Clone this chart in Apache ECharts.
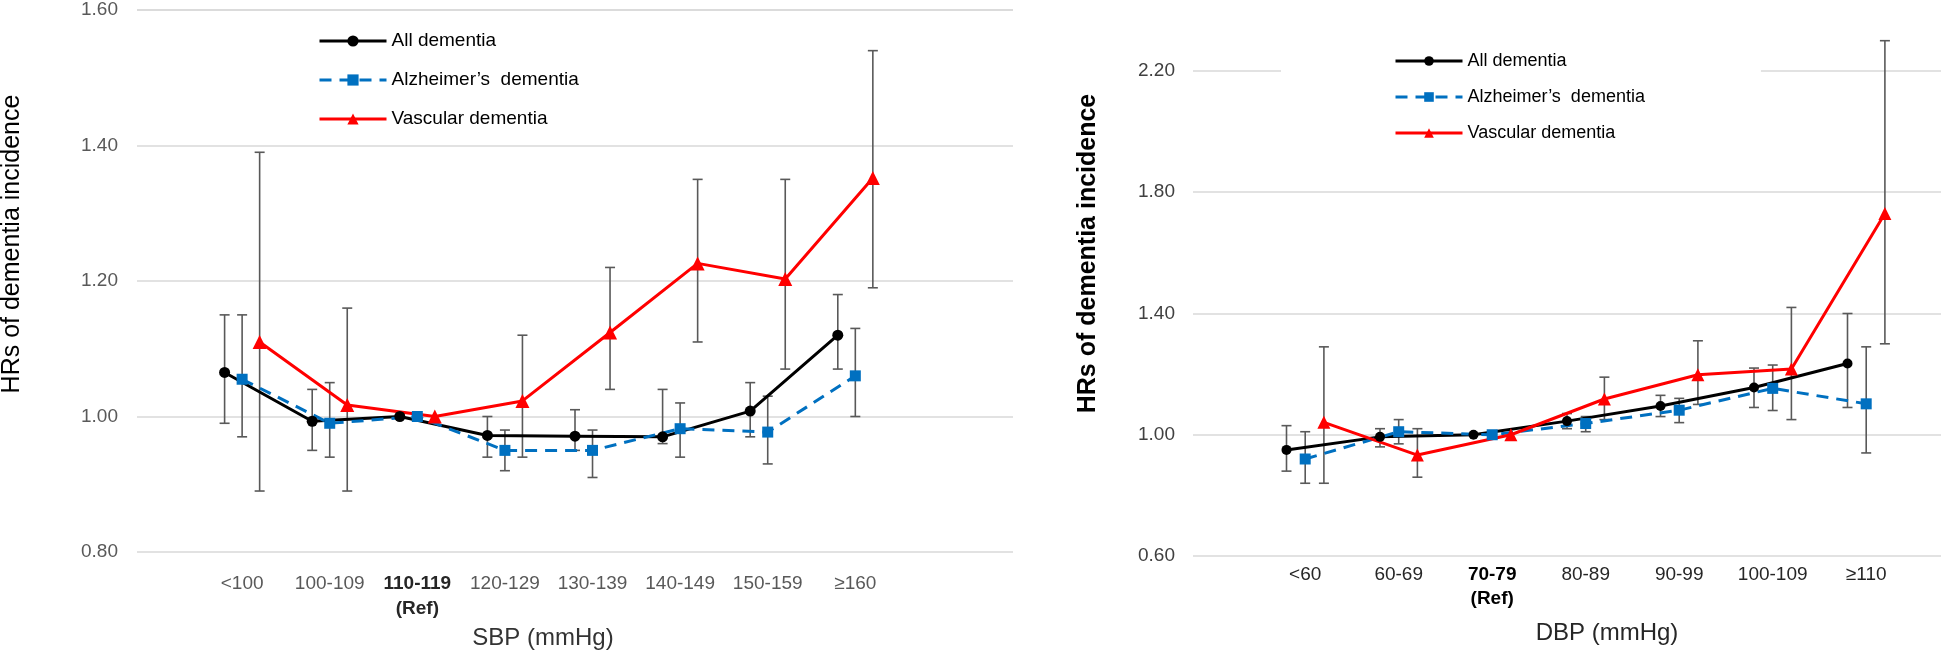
<!DOCTYPE html>
<html>
<head>
<meta charset="utf-8">
<script src="https://cdn.jsdelivr.net/npm/echarts@6/dist/echarts.min.js"></script>
<style>
  html, body { margin: 0; padding: 0; background: #fff; }
  #chart { width: 1944px; height: 651px; }
</style>
</head>
<body>
<div id="chart"></div>
<script>
const seriesNames = ['All dementia', 'Alzheimer’s  dementia', 'Vascular dementia'];

// SBP panel (left)
const sbpCategories = ['<100', '100-109', '110-119', '120-129', '130-139', '140-149', '150-159', '≥160'];
const sbpRefIndex = 2;
const sbpAllHR   = [1.065, 0.993, 1.00, 0.972, 0.971, 0.970, 1.008, 1.120];
const sbpAllLow  = [0.99, 0.95, null, 0.94, 0.95, 0.96, 0.97, 1.07];
const sbpAllHigh = [1.15, 1.04, null, 1.00, 1.01, 1.04, 1.05, 1.18];
const sbpAdHR    = [1.055, 0.990, 1.00, 0.950, 0.950, 0.982, 0.977, 1.060];
const sbpAdLow   = [0.97, 0.94, null, 0.92, 0.91, 0.94, 0.93, 1.00];
const sbpAdHigh  = [1.15, 1.05, null, 0.98, 0.98, 1.02, 1.03, 1.13];
const sbpVdHR    = [1.110, 1.017, 1.00, 1.023, 1.124, 1.226, 1.203, 1.352];
const sbpVdLow   = [0.89, 0.89, null, 0.94, 1.04, 1.11, 1.07, 1.19];
const sbpVdHigh  = [1.39, 1.16, null, 1.12, 1.22, 1.35, 1.35, 1.54];
const sbpTicks   = [0.80, 1.00, 1.20, 1.40, 1.60];

// DBP panel (right)
const dbpCategories = ['<60', '60-69', '70-79', '80-89', '90-99', '100-109', '≥110'];
const dbpRefIndex = 2;
const dbpAllHR   = [0.950, 0.993, 1.00, 1.045, 1.095, 1.156, 1.235];
const dbpAllLow  = [0.88, 0.96, null, 1.02, 1.06, 1.09, 1.09];
const dbpAllHigh = [1.03, 1.02, null, 1.07, 1.13, 1.22, 1.40];
const dbpAdHR    = [0.920, 1.010, 1.00, 1.037, 1.081, 1.153, 1.102];
const dbpAdLow   = [0.84, 0.97, null, 1.01, 1.04, 1.08, 0.94];
const dbpAdHigh  = [1.01, 1.05, null, 1.06, 1.12, 1.23, 1.29];
const dbpVdHR    = [1.041, 0.933, 1.00, 1.118, 1.198, 1.217, 1.730];
const dbpVdLow   = [0.84, 0.86, null, 1.05, 1.10, 1.05, 1.30];
const dbpVdHigh  = [1.29, 1.02, null, 1.19, 1.31, 1.42, 2.30];
const dbpTicks   = [0.60, 1.00, 1.40, 1.80, 2.20];

const FONT = '"Liberation Sans", Arial, sans-serif';
const colors = ['#000000', '#0070C0', '#FF0000'];
const symbols = ['circle', 'rect', 'triangle'];
// Excel-style offset of the three series inside each category
const offsets = [0, 0.2, 0.4];

function points(values, offset) {
  return values.map((v, i) => [i + 1 + offset, v]);
}

function bars(low, high, offset) {
  const out = [];
  low.forEach((lo, i) => {
    if (lo != null && high[i] != null) out.push([i + 1 + offset, lo, high[i]]);
  });
  return out;
}

function catFormatter(cats, refIdx) {
  return function (v) {
    const k = Math.round(v * 5);
    if (k % 5 !== 1) return '';
    const i = (k - 1) / 5 - 1;
    if (i < 0 || i >= cats.length) return '';
    return i === refIdx ? '{b|' + cats[i] + '}\n{b|(Ref)}' : cats[i];
  };
}

function errorSeries(axisIdx, data) {
  return {
    type: 'custom',
    xAxisIndex: axisIdx,
    yAxisIndex: axisIdx,
    silent: true,
    clip: false,
    z: 1,
    encode: { x: 0, y: [1, 2] },
    data: data,
    renderItem: function (params, api) {
      const x = api.value(0);
      const top = api.coord([x, api.value(2)]);
      const bot = api.coord([x, api.value(1)]);
      const cap = 5;
      const st = { stroke: '#595959', lineWidth: 1.6 };
      return {
        type: 'group',
        children: [
          { type: 'line', shape: { x1: top[0], y1: top[1], x2: bot[0], y2: bot[1] }, style: st },
          { type: 'line', shape: { x1: top[0] - cap, y1: top[1], x2: top[0] + cap, y2: top[1] }, style: st },
          { type: 'line', shape: { x1: bot[0] - cap, y1: bot[1], x2: bot[0] + cap, y2: bot[1] }, style: st }
        ]
      };
    }
  };
}

function lineSeries(axisIdx, k, values, sizes) {
  return {
    name: seriesNames[k],
    type: 'line',
    xAxisIndex: axisIdx,
    yAxisIndex: axisIdx,
    data: points(values, offsets[k]),
    symbol: symbols[k],
    symbolSize: sizes[k],
    showSymbol: true,
    z: 3,
    itemStyle: { color: colors[k] },
    lineStyle: { color: colors[k], width: 3, type: k === 1 ? [12, 8] : 'solid' }
  };
}

const chart = echarts.init(document.getElementById('chart'));

const leftSizes = [11, 11, 14];
const rightSizes = [10, 11, 13];

const option = {
  animation: false,
  backgroundColor: '#fff',
  textStyle: { fontFamily: FONT },
  grid: [
    { left: 137, top: 10, width: 876, height: 542, outerBoundsMode: 'none' },
    { left: 1193, top: 71, width: 748, height: 485, outerBoundsMode: 'none' }
  ],
  legend: [
    {
      data: seriesNames,
      orient: 'vertical',
      left: 318,
      top: 31,
      padding: 0,
      itemWidth: 67,
      itemHeight: 14,
      itemGap: 19,
      lineStyle: { width: 3 },
      textStyle: { fontSize: 19, color: '#000', lineHeight: 20, fontFamily: FONT }
    },
    {
      data: seriesNames,
      orient: 'vertical',
      left: 1281,
      top: 41,
      padding: [10, 116, 10, 113],
      backgroundColor: '#fff',
      itemWidth: 67,
      itemHeight: 12,
      itemGap: 16,
      lineStyle: { width: 3 },
      textStyle: { fontSize: 18, color: '#000', lineHeight: 20, fontFamily: FONT }
    }
  ],
  xAxis: [
    {
      gridIndex: 0,
      type: 'value',
      min: 0,
      max: sbpCategories.length + 2,
      interval: 0.2,
      axisLine: { show: false },
      axisTick: { show: false },
      splitLine: { show: false },
      axisLabel: {
        formatter: catFormatter(sbpCategories, sbpRefIndex),
        fontSize: 19,
        lineHeight: 25,
        color: '#595959',
        margin: 19,
        fontFamily: FONT,
        rich: { b: { fontWeight: 'bold', fontSize: 19, lineHeight: 25, color: '#262626', fontFamily: FONT } }
      },
      name: 'SBP (mmHg)',
      nameLocation: 'middle',
      nameGap: 64,
      nameTextStyle: { fontSize: 24, color: '#333', fontFamily: FONT, padding: [0, 64, 0, 0] }
    },
    {
      gridIndex: 1,
      type: 'value',
      min: 0,
      max: dbpCategories.length + 1,
      interval: 0.2,
      axisLine: { show: false },
      axisTick: { show: false },
      splitLine: { show: false },
      axisLabel: {
        formatter: catFormatter(dbpCategories, dbpRefIndex),
        fontSize: 19,
        lineHeight: 24,
        color: '#262626',
        margin: 7,
        fontFamily: FONT,
        rich: { b: { fontWeight: 'bold', fontSize: 19, lineHeight: 24, color: '#000', fontFamily: FONT } }
      },
      name: 'DBP (mmHg)',
      nameLocation: 'middle',
      nameGap: 65,
      nameTextStyle: { fontSize: 24, color: '#262626', fontFamily: FONT, padding: [0, 0, 0, 80] }
    }
  ],
  yAxis: [
    {
      gridIndex: 0,
      type: 'value',
      min: sbpTicks[0],
      max: sbpTicks[sbpTicks.length - 1],
      interval: sbpTicks[1] - sbpTicks[0],
      axisLine: { show: false },
      axisTick: { show: false },
      splitLine: { lineStyle: { color: '#d9d9d9', width: 1.5 } },
      axisLabel: { formatter: v => v.toFixed(2), fontSize: 19, color: '#595959', margin: 19, fontFamily: FONT },
      name: 'HRs of dementia incidence',
      nameLocation: 'middle',
      nameRotate: 90,
      nameGap: 112,
      nameTextStyle: { fontSize: 25, color: '#000', fontFamily: FONT, padding: [0, 0, 0, 74] }
    },
    {
      gridIndex: 1,
      type: 'value',
      min: dbpTicks[0],
      max: dbpTicks[dbpTicks.length - 1],
      interval: dbpTicks[1] - dbpTicks[0],
      axisLine: { show: false },
      axisTick: { show: false },
      splitLine: { lineStyle: { color: '#d9d9d9', width: 1.5 } },
      axisLabel: { formatter: v => v.toFixed(2), fontSize: 19, color: '#404040', margin: 18, fontFamily: FONT },
      name: 'HRs of dementia incidence',
      nameLocation: 'middle',
      nameRotate: 90,
      nameGap: 92,
      nameTextStyle: { fontSize: 25, fontWeight: 'bold', color: '#000', fontFamily: FONT, padding: [0, 0, 0, 120] }
    }
  ],
  series: [
    errorSeries(0, bars(sbpAllLow, sbpAllHigh, offsets[0])),
    errorSeries(0, bars(sbpAdLow, sbpAdHigh, offsets[1])),
    errorSeries(0, bars(sbpVdLow, sbpVdHigh, offsets[2])),
    lineSeries(0, 0, sbpAllHR, leftSizes),
    lineSeries(0, 1, sbpAdHR, leftSizes),
    lineSeries(0, 2, sbpVdHR, leftSizes),
    errorSeries(1, bars(dbpAllLow, dbpAllHigh, offsets[0])),
    errorSeries(1, bars(dbpAdLow, dbpAdHigh, offsets[1])),
    errorSeries(1, bars(dbpVdLow, dbpVdHigh, offsets[2])),
    lineSeries(1, 0, dbpAllHR, rightSizes),
    lineSeries(1, 1, dbpAdHR, rightSizes),
    lineSeries(1, 2, dbpVdHR, rightSizes)
  ]
};

chart.setOption(option);
</script>
</body>
</html>
